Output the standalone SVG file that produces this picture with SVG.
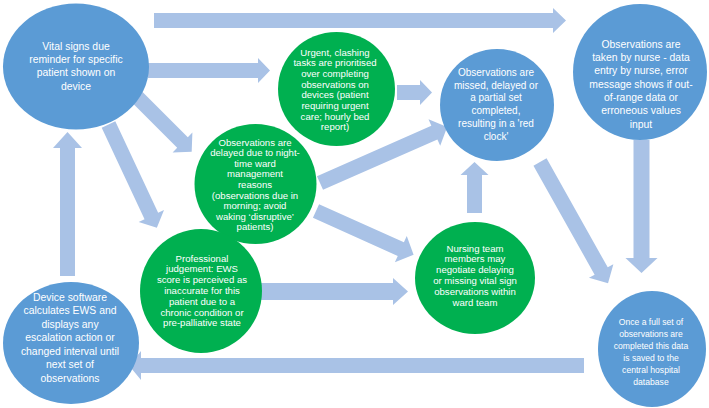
<svg xmlns="http://www.w3.org/2000/svg" width="709" height="408" viewBox="0 0 709 408">
<style>
.blue{fill:#5b9bd5}
.green{fill:#00b050}
.arr{fill:#a9c2e6}
text{font-family:"Liberation Sans",Arial,sans-serif;font-size:9.6px;fill:#ffffff;text-anchor:middle}
.b text{font-size:10.4px}
#n3 text{font-size:10px}
#n9 text{font-size:8.6px}
</style>
<rect width="709" height="408" fill="#ffffff"/>
<g id="connectors">
<polygon class="arr" transform="translate(154 20.5)" points="0,-7.5 399,-7.5 399,-12.5 412,0 399,12.5 399,7.5 0,7.5"/>
<polygon class="arr" transform="translate(148 70.5)" points="0,-7.5 110,-7.5 110,-12.5 122,0 110,12.5 110,7.5 0,7.5"/>
<polygon class="arr" transform="translate(397 92.5)" points="0,-7.5 23,-7.5 23,-12.5 35,0 23,12.5 23,7.5 0,7.5"/>
<polygon class="arr" transform="translate(133 93) rotate(45)" points="0,-7.5 70,-7.5 70,-14 83,0 70,14 70,7.5 0,7.5"/>
<polygon class="arr" transform="translate(108.5 124.5) rotate(64.9)" points="0,-7.5 101,-7.5 101,-14 114,0 101,14 101,7.5 0,7.5"/>
<polygon class="arr" transform="translate(320 183) rotate(-23.8)" points="0,-7.5 125,-7.5 125,-14.5 139,0 125,14.5 125,7.5 0,7.5"/>
<polygon class="arr" transform="translate(316 211) rotate(24.2)" points="0,-7.5 93,-7.5 93,-14.5 107,0 93,14.5 93,7.5 0,7.5"/>
<polygon class="arr" transform="translate(261 291.5)" points="0,-8.5 132,-8.5 132,-13.5 147,0 132,13.5 132,8.5 0,8.5"/>
<polygon class="arr" transform="translate(474.5 213) rotate(-90)" points="0,-7.5 38,-7.5 38,-14 51,0 38,14 38,7.5 0,7.5"/>
<polygon class="arr" transform="translate(540 162) rotate(60.7)" points="0,-7.5 125,-7.5 125,-14 139,0 125,14 125,7.5 0,7.5"/>
<polygon class="arr" transform="translate(641.5 140) rotate(90)" points="0,-8 118,-8 118,-16 133,0 118,16 118,8 0,8"/>
<polygon class="arr" transform="translate(584 365.5) rotate(180)" points="0,-7.5 443,-7.5 443,-14.5 455,0 443,14.5 443,7.5 0,7.5"/>
<polygon class="arr" transform="translate(67.5 276) rotate(-90)" points="0,-7.5 128,-7.5 128,-14.5 144,0 128,14.5 128,7.5 0,7.5"/>
</g>
<g id="n1" class="b">
<ellipse class="blue" cx="76" cy="66.5" rx="73" ry="63"/>
<text x="76" y="49.7">Vital signs due</text>
<text x="76" y="63">reminder for specific</text>
<text x="76" y="76.3">patient shown on</text>
<text x="76" y="89.6">device</text>
</g>
<g id="n2">
<ellipse class="green" cx="336.5" cy="89" rx="58.5" ry="57"/>
<text x="335" y="55.5">Urgent, clashing</text>
<text x="335" y="66.2">tasks are prioritised</text>
<text x="335" y="76.9">over completing</text>
<text x="335" y="87.6">observations on</text>
<text x="335" y="98.3">devices (patient</text>
<text x="335" y="109">requiring urgent</text>
<text x="335" y="119.7">care; hourly bed</text>
<text x="335" y="130.4">report)</text>
</g>
<g id="n3" class="b">
<ellipse class="blue" cx="497" cy="105" rx="57" ry="56"/>
<text x="496" y="75.7">Observations are</text>
<text x="496" y="88.5">missed, delayed or</text>
<text x="496" y="101.3">a partial set</text>
<text x="496" y="114.1">completed,</text>
<text x="496" y="126.9">resulting in a 'red</text>
<text x="496" y="139.7">clock'</text>
</g>
<g id="n4" class="b">
<ellipse class="blue" cx="640" cy="72" rx="67" ry="68"/>
<text x="641" y="47.7">Observations are</text>
<text x="641" y="61">taken by nurse -  data</text>
<text x="641" y="74.3">entry by nurse, error</text>
<text x="641" y="87.6">message shows if out-</text>
<text x="641" y="100.9">of-range data or</text>
<text x="641" y="114.2">erroneous values</text>
<text x="641" y="127.5">input</text>
</g>
<g id="n5">
<ellipse class="green" cx="255.5" cy="184" rx="61" ry="60"/>
<text x="255" y="145.5">Observations are</text>
<text x="255" y="156.1">delayed due to night-</text>
<text x="255" y="166.7">time ward</text>
<text x="255" y="177.3">management</text>
<text x="255" y="187.9">reasons</text>
<text x="255" y="198.5">(observations due in</text>
<text x="255" y="209.1">morning; avoid</text>
<text x="255" y="219.7">waking ‘disruptive’</text>
<text x="255" y="230.3">patients)</text>
</g>
<g id="n6">
<ellipse class="green" cx="201" cy="291" rx="61" ry="62"/>
<text x="202" y="261.5">Professional</text>
<text x="202" y="272.3">judgement: EWS</text>
<text x="202" y="283.1">score is perceived as</text>
<text x="202" y="293.9">inaccurate for this</text>
<text x="202" y="304.7">patient due to a</text>
<text x="202" y="315.5">chronic condition or</text>
<text x="202" y="326.3">pre-palliative state</text>
</g>
<g id="n7">
<ellipse class="green" cx="475" cy="278" rx="60" ry="56"/>
<text x="475" y="251.5">Nursing team</text>
<text x="475" y="262.3">members may</text>
<text x="475" y="273.1">negotiate delaying</text>
<text x="475" y="283.9">or missing vital sign</text>
<text x="475" y="294.7">observations within</text>
<text x="475" y="305.5">ward team</text>
</g>
<g id="n8" class="b">
<ellipse class="blue" cx="71" cy="343" rx="68" ry="61"/>
<text x="70" y="300.7">Device software</text>
<text x="70" y="314.2">calculates EWS  and</text>
<text x="70" y="327.7">displays any</text>
<text x="70" y="341.2">escalation action or</text>
<text x="70" y="354.7">changed interval until</text>
<text x="70" y="368.2">next set of</text>
<text x="70" y="381.7">observations</text>
</g>
<g id="n9" class="b">
<ellipse class="blue" cx="652" cy="349" rx="54" ry="58"/>
<text x="651" y="324.5">Once a full set of</text>
<text x="651" y="336.5">observations are</text>
<text x="651" y="348.5">completed this data</text>
<text x="651" y="360.5">is saved to the</text>
<text x="651" y="372.5">central hospital</text>
<text x="651" y="384.5">database</text>
</g>
</svg>
